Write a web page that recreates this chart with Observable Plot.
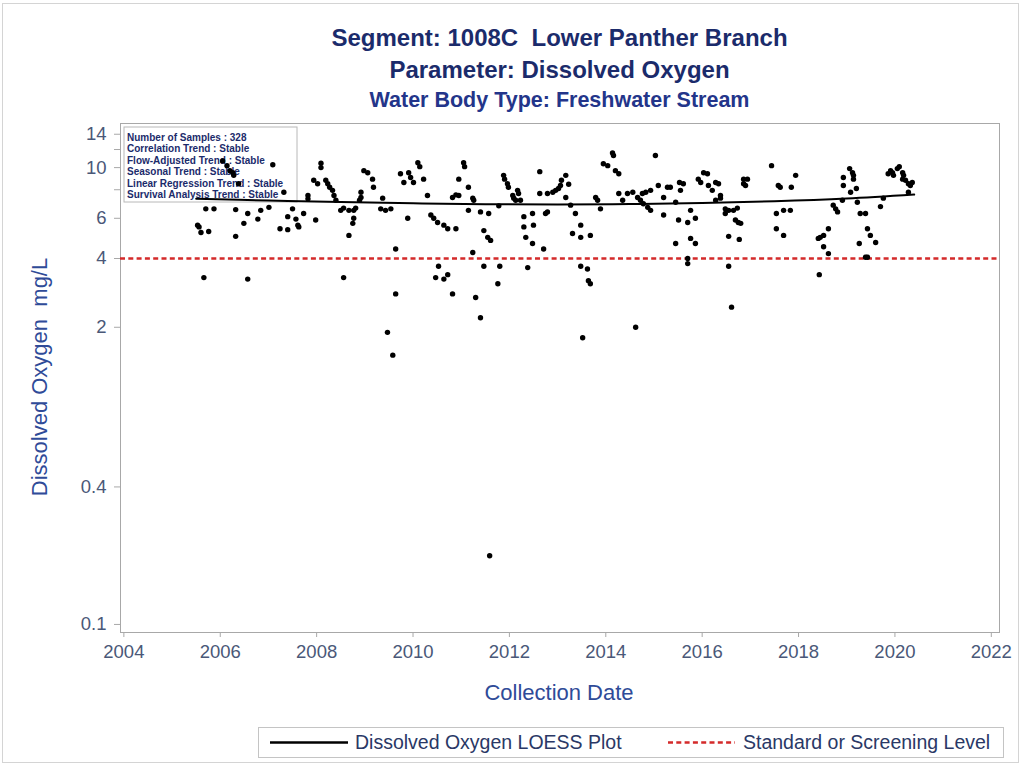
<!DOCTYPE html>
<html><head><meta charset="utf-8">
<script src="https://cdn.jsdelivr.net/npm/d3@7"></script>
<script src="https://cdn.jsdelivr.net/npm/@observablehq/plot@0.6"></script>
<style>
body{margin:0;background:#fff;font-family:"Liberation Sans",Arial,sans-serif;}
#wrap{position:relative;width:1026px;height:767px;overflow:hidden;background:#fff;}
#border{position:absolute;left:2px;top:3px;width:1017px;height:760px;border:1px solid #d4d4d4;box-sizing:border-box;}
.t{position:absolute;left:120px;width:879px;text-align:center;font-weight:bold;color:#1b2b6b;white-space:nowrap;line-height:28px;}
.al{position:absolute;color:#2f4b98;font-size:22px;white-space:nowrap;line-height:26px;}
#chart{position:absolute;left:0;top:105px;}
#legend{position:absolute;left:258px;top:727px;}
</style></head><body>
<div id="wrap">
  <div id="border"></div>
  <div class="t" id="t1" style="top:24px;font-size:24px;"></div>
  <div class="t" id="t2" style="top:56px;font-size:24px;"></div>
  <div class="t" id="t3" style="top:86px;font-size:21.5px;color:#23358a;"></div>
  <div id="chart"></div>
  <div class="al" id="ylab" style="left:40px;top:377px;transform:translate(-50%,-50%) rotate(-90deg);"></div>
  <div class="al" id="xlab" style="left:559px;top:693px;transform:translate(-50%,-50%);"></div>
  <div id="legend"></div>
</div>
<script>
// ---- text ----
const titleLines = ["Segment: 1008C\u00a0 Lower Panther Branch", "Parameter: Dissolved Oxygen", "Water Body Type: Freshwater Stream"];
const yLabel = "Dissolved Oxygen\u00a0 mg/L";
const xLabel = "Collection Date";
const summaryLines = ["Number of Samples : 328", "Correlation Trend : Stable", "Flow-Adjusted Trend : Stable", "Seasonal Trend : Stable", "Linear Regression Trend : Stable", "Survival Analysis Trend : Stable"];
const legendLabels = ["Dissolved Oxygen LOESS Plot", "Standard or Screening Level"];

// ---- ticks ----
const xTicks = [2004, 2006, 2008, 2010, 2012, 2014, 2016, 2018, 2020, 2022];
const yTicks = [0.1, 0.4, 2, 4, 6, 10, 14];
const yMinorTicks = [8, 12];

// ---- data ----
const standardLevel = 4;

const sampleYear = [
2005.53,2005.56,2005.60,2005.76,2005.70,2005.87,2005.66,2006.20,2006.26,2006.28,
2006.05,2006.14,2006.38,2006.32,2006.32,2006.49,2006.57,2006.57,2006.78,2006.84,
2007.01,2007.09,2007.24,2007.32,2007.40,2007.40,2007.50,2007.57,2007.61,2007.63,
2007.73,2007.82,2007.82,2007.98,2008.09,2008.09,2007.94,2008.02,2008.19,2008.23,
2008.27,2008.33,2008.36,2008.40,2008.50,2008.56,2008.67,2008.77,2008.81,2008.77,
2008.75,2008.67,2008.56,2008.92,2008.92,2008.89,2008.98,2009.06,2009.16,2009.18,
2009.37,2009.33,2009.43,2009.54,2009.64,2009.64,2009.47,2009.58,2009.74,2009.81,
2009.91,2009.95,2010.01,2010.10,2010.14,2010.22,2010.30,2009.89,2010.37,2010.43,
2010.51,2010.64,2010.72,2010.89,2010.53,2010.47,2010.64,2010.72,2010.82,2010.95,
2010.82,2010.89,2010.95,2011.05,2011.07,2011.15,2011.15,2011.24,2011.26,2011.24,
2011.30,2011.40,2011.40,2011.57,2011.47,2011.55,2011.61,2011.47,2011.59,2011.76,
2011.80,2011.78,2011.88,2011.90,2011.96,2011.98,2012.07,2012.09,2012.13,2012.17,
2012.19,2012.23,2012.30,2012.30,2012.34,2012.38,2012.48,2012.50,2012.48,2012.63,
2012.63,2012.71,2012.75,2012.79,2012.79,2012.90,2012.96,2013.02,2013.06,2013.08,
2013.17,2013.23,2013.17,2013.27,2013.31,2013.37,2013.48,2013.48,2013.68,2013.48,
2013.62,2013.64,2013.68,2013.52,2013.79,2013.83,2013.89,2013.95,2014.04,2014.14,
2014.16,2014.20,2014.27,2014.27,2014.35,2014.45,2014.56,2014.62,2014.66,2014.72,
2014.78,2014.87,2014.93,2014.76,2014.83,2014.93,2015.03,2015.09,2015.20,2015.20,
2015.28,2015.34,2015.45,2015.45,2015.53,2015.61,2015.55,2015.51,2015.70,2015.70,
2015.70,2015.76,2015.76,2015.86,2015.86,2015.92,2015.97,2016.03,2016.11,2016.13,
2016.21,2016.28,2016.34,2016.28,2016.38,2016.38,2016.48,2016.48,2016.55,2016.65,
2016.73,2016.69,2016.75,2016.80,2016.55,2016.77,2016.55,2016.61,2016.86,2016.94,
2016.90,2016.86,2017.44,2017.58,2017.62,2017.54,2017.69,2017.83,2017.54,2017.69,
2017.85,2017.94,2018.41,2018.45,2018.52,2018.52,2018.62,2018.62,2018.43,2018.72,
2018.77,2018.81,2018.91,2018.93,2018.93,2019.06,2019.12,2019.14,2019.14,2019.08,
2019.20,2019.22,2019.28,2019.39,2019.26,2019.43,2019.49,2019.60,2019.39,2019.43,
2019.70,2019.76,2019.86,2019.91,2019.95,2019.97,2020.05,2020.09,2020.16,2020.18,
2020.16,2020.22,2020.28,2020.32,2020.36,2020.28
];
const doValue = [
5.59,5.5,5.2,5.25,6.6,6.6,3.3,9.7,9.5,9.25,
10.7,10.2,8.5,6.55,5.0,5.7,6.3,3.25,5.95,6.5,
6.7,10.3,5.4,7.8,5.35,6.1,6.6,5.95,5.6,5.5,
6.3,7.55,7.3,5.9,10.45,10.0,8.8,8.5,8.8,8.5,
8.2,7.95,7.55,7.2,6.5,6.65,6.5,6.5,6.65,6.0,
5.7,5.05,3.3,7.8,7.4,7.2,9.7,9.5,8.9,8.2,
7.35,6.6,6.5,6.6,4.4,2.8,1.9,1.51,9.4,8.6,
9.5,9.05,8.6,10.5,10.1,8.9,7.55,6.0,6.2,6.0,
5.75,5.6,5.4,5.4,3.7,3.3,3.25,3.4,2.8,7.55,
7.4,7.6,8.9,10.5,10.1,8.2,6.5,7.35,7.2,4.25,
2.7,2.2,6.4,6.3,5.3,4.95,4.8,3.7,0.2,3.1,
3.7,6.8,9.25,8.9,8.5,8.2,7.55,7.35,7.2,7.95,
7.7,7.2,6.1,5.5,4.95,3.65,6.3,5.6,4.65,9.6,
7.7,4.4,6.3,6.4,7.7,7.8,7.95,8.1,8.35,8.8,
9.25,8.45,7.4,6.85,5.15,6.3,5.6,4.95,5.05,3.7,
3.6,3.2,3.1,1.8,7.4,7.2,6.6,10.4,10.2,11.6,
11.3,9.7,9.4,7.7,7.2,7.7,7.8,2.0,7.4,7.2,
6.95,6.7,6.5,7.7,7.8,7.95,11.3,8.35,7.4,6.2,
8.2,8.2,7.05,4.65,8.6,8.5,7.95,5.9,5.75,4.0,
3.8,6.5,4.9,4.65,6.0,8.9,8.6,9.5,9.4,8.35,
7.95,8.6,8.5,7.2,7.55,7.35,6.6,6.3,6.5,6.5,
6.65,5.9,5.75,5.7,5.0,4.85,3.7,2.45,8.9,8.9,
8.35,8.5,10.2,8.35,8.2,6.3,6.5,6.5,5.4,5.05,
8.2,9.25,4.9,4.95,5.05,4.5,4.2,5.4,3.4,6.85,
6.6,6.4,7.2,8.35,9.05,9.9,9.5,9.25,8.9,7.8,
8.1,7.05,6.3,6.3,4.65,5.4,5.05,4.7,4.05,4.05,
6.75,7.35,9.4,9.7,9.5,9.25,9.9,10.1,9.5,9.25,
8.9,8.8,8.5,8.35,8.6,7.8
];

const loessYear  = [2005.5, 2007.0, 2008.5, 2010.0, 2011.5, 2013.0, 2014.5, 2016.0, 2017.5, 2019.0, 2020.4];
const loessValue = [7.3,    7.18,   7.07,   6.98,   6.92,   6.9,    6.93,   7.0,    7.12,   7.32,   7.62];

// ---- build ----
const pts = sampleYear.map((x, i) => ({x, y: doValue[i]}));
const loess = loessYear.map((x, i) => ({x, y: loessValue[i]}));

const titleIds = ["t1","t2","t3"];
titleLines.forEach((s, i) => document.getElementById(titleIds[i]).textContent = s);
document.getElementById("ylab").textContent = yLabel;
document.getElementById("xlab").textContent = xLabel;

const navy = "#1b2b6b";
const tickColor = "#4a5878";
const lineGray = "#a8a8a8";
const red = "#d42a2a";
const fontFam = '"Liberation Sans", Arial, sans-serif';

function summaryBox(index, scales, values, dims) {
  const g = d3.create("svg:g");
  const x0 = dims.marginLeft + 4, y0 = dims.marginTop + 4;
  g.append("rect").attr("x", x0).attr("y", y0).attr("width", 173).attr("height", 75)
    .attr("fill", "white").attr("stroke", "#b8b8b8").attr("stroke-width", 1);
  g.selectAll("text").data(summaryLines).join("text")
    .attr("x", x0 + 3).attr("y", (d, i) => y0 + 14 + i * 11.4)
    .attr("text-anchor", "start")
    .attr("font-size", 10).attr("font-weight", "bold").attr("fill", navy)
    .attr("font-family", fontFam)
    .text(d => d);
  return g.node();
}

const chart = Plot.plot({
  width: 1026, height: 620,
  marginTop: 18, marginBottom: 93, marginLeft: 120, marginRight: 27,
  style: {fontFamily: fontFam, fontSize: "18.5px", background: "transparent", overflow: "visible"},
  x: {domain: [2003.93, 2022.17]},
  y: {type: "log", domain: [0.0922, 15.6]},
  marks: [
    Plot.frame({stroke: lineGray}),
    Plot.axisX({ticks: xTicks, text: d => String(d), tickSize: 5, tickPadding: 7, label: null, stroke: lineGray, fill: tickColor}),
    Plot.axisY({ticks: yTicks, text: d => String(d), tickSize: 6, tickPadding: 8, label: null, stroke: lineGray, fill: tickColor}),
    Plot.axisY({ticks: yMinorTicks, text: () => "", tickSize: 6, label: null, stroke: lineGray}),
    summaryBox,
    Plot.ruleY([standardLevel], {stroke: red, strokeWidth: 2.6, strokeDasharray: "5,3.3"}),
    Plot.line(loess, {x: "x", y: "y", stroke: "black", strokeWidth: 2, curve: "catmull-rom"}),
    Plot.dot(pts, {x: "x", y: "y", r: 2.7, fill: "black", stroke: "none"})
  ]
});
document.getElementById("chart").append(chart);

// ---- legend ----
const lg = d3.select("#legend").append("svg").attr("width", 746).attr("height", 31);
lg.append("rect").attr("x", 0.5).attr("y", 0.5).attr("width", 745).attr("height", 30).attr("fill", "white").attr("stroke", "#c4c4c4");
lg.append("line").attr("x1", 12).attr("x2", 90).attr("y1", 15.5).attr("y2", 15.5).attr("stroke", "black").attr("stroke-width", 2.6);
lg.append("line").attr("x1", 410).attr("x2", 477).attr("y1", 15.5).attr("y2", 15.5).attr("stroke", red).attr("stroke-width", 2.6).attr("stroke-dasharray", "5,3.3");
lg.selectAll("text.l").data(legendLabels).join("text").attr("class", "l")
  .attr("x", (d, i) => i === 0 ? 97 : 485).attr("y", 22)
  .attr("font-size", 19.5).attr("fill", "#2a3866")
  .attr("font-family", fontFam)
  .text(d => d);
</script>
</body></html>
